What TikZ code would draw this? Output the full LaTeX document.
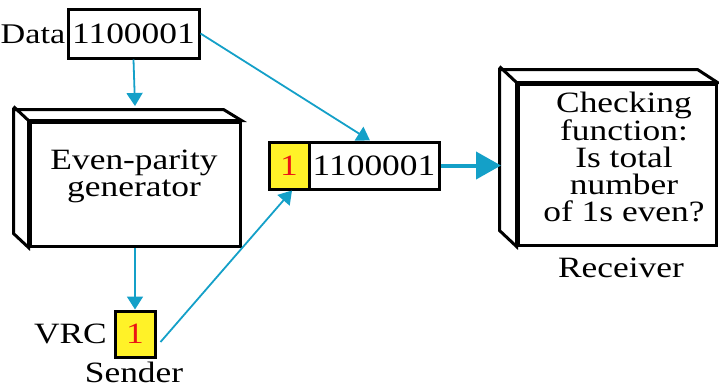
\documentclass[tikz,border=0pt]{standalone}
\usepackage{fontspec}
\setmainfont{Liberation Serif}[FakeStretch=1.2]
\usetikzlibrary{arrows.meta,calc}
\definecolor{arr}{RGB}{20,160,200}
\definecolor{ylw}{RGB}{255,242,40}
\definecolor{bitred}{RGB}{235,20,20}
\tikzset{
  txt/.style={font=\fontsize{29.5}{27}\selectfont, inner sep=0pt},
  bitbox/.style={draw, line width=3pt, inner sep=0pt, minimum height=47pt, font=\fontsize{29.5}{27}\selectfont},
  face/.style={draw, line width=3pt, fill=white, line join=miter},
  conn/.style={draw=arr, line width=1.8pt, -{Triangle[length=13pt,width=16pt]}},
  bigconn/.style={draw=arr, line width=4pt, -{Triangle[length=25pt,width=27pt]}},
}
\begin{document}
\begin{tikzpicture}[x=1pt,y=-1pt]
\useasboundingbox (0,0) rectangle (719,389);

% data word
\node[bitbox, minimum width=131pt, minimum height=49pt] (data) at (133.5,33.5) {1100001};
\node[txt, font=\fontsize{28.5}{27}\selectfont, anchor=east] (datalbl) at (65.5,34) {Data};

% even-parity generator (3D box)
\node[draw, line width=3pt, fill=white, minimum width=210pt, minimum height=124pt, inner sep=0pt] (gen) at (135,184) {};
\draw[face] (gen.south west) -- ++(-15,-14) -- ++(0,-124) -- ++(210,0) -- (gen.north east) -- (gen.north west) -- cycle;
\draw[line width=3pt] (gen.north west) -- ++(-15,-14);
\node[txt, align=center] (gentext) at (134,176) {Even-parity\\generator};
\coordinate (gentop) at (135,106);

% VRC
\node[bitbox, fill=ylw, minimum width=40pt, minimum height=46pt, text=bitred] (vrc) at (135,334) {1};
\node[txt, anchor=east] (vrclbl) at (107,334) {VRC};
\node[txt] (sender) at (134,372.5) {Sender};

% transmitted codeword
\node[bitbox, fill=ylw, minimum width=40pt, text=bitred] (par) at (289,165.5) {1};
\node[bitbox, fill=white, minimum width=130pt] (word) at (374,165.5) {1100001};

% receiver (3D box)
\node[draw, line width=3pt, fill=white, minimum width=198pt, minimum height=161pt, inner sep=0pt] (recv) at (617,164.5) {};
\draw[face] (recv.south west) -- ++(-17,-16) -- ++(0,-161) -- ++(198,0) -- (recv.north east) -- (recv.north west) -- cycle;
\draw[line width=3pt] (recv.north west) -- ++(-17,-16);
\node[txt, align=center] (recvtext) at (624,157) {Checking\\function:\\Is total\\number\\of 1s even?};
\node[txt] (recvlbl) at (621,268) {Receiver};
\coordinate (recvside) at (501,165.5);

% connectors
\draw[conn] (data.south) -- (gentop);
\draw[conn] (gen.south) -- (vrc.north);
\draw[conn] (data.east) -- ([xshift=-4pt]word.north);
\draw[conn] ([xshift=4pt,yshift=-8pt]vrc.east) -- ([xshift=3pt]par.south);
\draw[bigconn] (word.east) -- (recvside);
\end{tikzpicture}
\end{document}
